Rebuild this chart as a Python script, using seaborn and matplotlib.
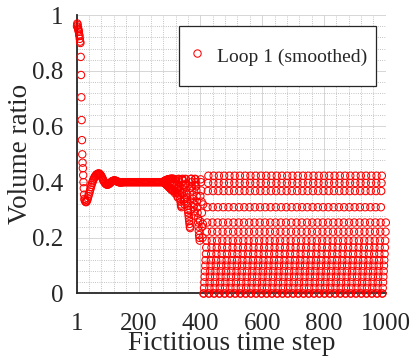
import numpy as np
import pandas as pd
import seaborn as sns
import matplotlib
matplotlib.use("Agg")
import matplotlib.pyplot as plt
from matplotlib.ticker import MultipleLocator, FuncFormatter

# ---------------- data ----------------
decay_steps = list(range(1, 26))
decay_vals = [0.96, 0.97, 0.965, 0.955, 0.95, 0.945, 0.94, 0.93, 0.925, 0.915,
              0.905, 0.90, 0.85, 0.785, 0.705, 0.623, 0.551, 0.50, 0.47, 0.45,
              0.425, 0.40, 0.378, 0.355, 0.34]

settle_steps = list(range(26, 151, 2))
settle_vals = [0.335, 0.33, 0.328, 0.33, 0.335, 0.342, 0.35, 0.358, 0.366, 0.374,
               0.382, 0.39, 0.397, 0.403, 0.409, 0.414, 0.418, 0.422, 0.425, 0.427,
               0.429, 0.43, 0.431, 0.431, 0.43, 0.428, 0.425, 0.421, 0.417, 0.412,
               0.407, 0.403, 0.399, 0.396, 0.394, 0.392, 0.391, 0.391, 0.392, 0.393,
               0.395, 0.397, 0.399, 0.401, 0.403, 0.404, 0.405, 0.406, 0.406, 0.406,
               0.405, 0.404, 0.403, 0.402, 0.401, 0.40, 0.40, 0.399, 0.399, 0.399,
               0.40, 0.40, 0.40]

plateau_steps = list(range(152, 282, 3))
plateau_vals = [0.40] * len(plateau_steps)

trans_steps = list(range(282, 410))
trans_vals = [
    # 282-313
    0.40, 0.404, 0.397, 0.405, 0.395, 0.406, 0.393, 0.407, 0.391, 0.408,
    0.389, 0.409, 0.387, 0.41, 0.385, 0.41, 0.383, 0.411, 0.38, 0.411,
    0.378, 0.412, 0.376, 0.412, 0.374, 0.412, 0.372, 0.412, 0.37, 0.412,
    0.368, 0.412,
    # 314-343
    0.40, 0.39, 0.38, 0.37, 0.36, 0.365, 0.395, 0.41, 0.405, 0.39,
    0.375, 0.36, 0.35, 0.345, 0.38, 0.41, 0.412, 0.40, 0.385, 0.37,
    0.355, 0.34, 0.33, 0.32, 0.315, 0.31, 0.36, 0.41, 0.412, 0.405,
    # 344-373
    0.39, 0.375, 0.36, 0.345, 0.33, 0.32, 0.34, 0.39, 0.412, 0.41,
    0.395, 0.38, 0.36, 0.345, 0.33, 0.315, 0.30, 0.29, 0.28, 0.27,
    0.26, 0.25, 0.24, 0.235, 0.30, 0.38, 0.412, 0.412, 0.40, 0.385,
    # 374-409
    0.37, 0.355, 0.34, 0.325, 0.31, 0.295, 0.28, 0.32, 0.39, 0.412,
    0.41, 0.40, 0.385, 0.37, 0.35, 0.33, 0.31, 0.29, 0.27, 0.255,
    0.24, 0.225, 0.21, 0.20, 0.19, 0.26, 0.35, 0.41, 0.40, 0.37,
    0.33, 0.29, 0.24, 0.20, 0.25, 0.32]

cycle_vals = [0.0, 0.0, 0.02, 0.04, 0.06, 0.08, 0.10, 0.12, 0.142, 0.165,
              0.19, 0.222, 0.255, 0.31, 0.368, 0.397, 0.423]
cycle_steps = list(range(410, 1001))

series_label = "Loop 1 (smoothed)"
x_ticks = [1, 200, 400, 600, 800, 1000]
y_ticks = [0, 0.2, 0.4, 0.6, 0.8, 1.0]

# ---------------- assemble ----------------
steps = decay_steps + settle_steps + plateau_steps + trans_steps + cycle_steps
vals = (decay_vals + settle_vals + plateau_vals + trans_vals
        + list(np.resize(np.array(cycle_vals), len(cycle_steps))))
df = pd.DataFrame({"step": steps, "ratio": vals})

sns.set_theme(style="white")
plt.rcParams["font.family"] = ["Liberation Serif", "DejaVu Serif"]

fig = plt.figure(figsize=(4.14, 3.61), dpi=100)
ax = fig.add_axes([0.186, 0.187, 0.746, 0.771])

MS = 28
sns.scatterplot(data=df, x="step", y="ratio", ax=ax, marker="o", s=MS,
                facecolors="none", edgecolor="#ff0000", linewidth=0.75,
                clip_on=False, zorder=3, legend=False)

ax.set_xlim(1, 1000)
ax.set_ylim(0, 1)
ax.set_xticks(x_ticks)
ax.set_yticks(y_ticks)
ax.yaxis.set_major_formatter(FuncFormatter(lambda v, p: f"{v:g}"))
ax.xaxis.set_minor_locator(MultipleLocator(40))
ax.yaxis.set_minor_locator(MultipleLocator(0.04))

ax.grid(True, which="major", color="#d0d0d0", linestyle="-", linewidth=0.6)
ax.grid(True, which="minor", color="#b0b0b0", linestyle=":", linewidth=0.6)
ax.set_axisbelow(True)

for side in ["top", "right"]:
    ax.spines[side].set_visible(False)
for side in ["left", "bottom"]:
    ax.spines[side].set_color("#262626")
    ax.spines[side].set_linewidth(1.3)

ax.tick_params(axis="both", which="major", direction="in", length=4,
               width=1.0, color="#262626", labelsize=18, labelcolor="#262626")
ax.tick_params(axis="both", which="minor", length=0)
ax.tick_params(axis="x", pad=14)
ax.tick_params(axis="y", pad=10)

ax.set_xlabel("Fictitious time step", fontsize=19.5, color="#262626",
              labelpad=-2.5)
ax.set_ylabel("Volume ratio", fontsize=19.5, color="#262626", labelpad=-1)

h = ax.scatter([], [], marker="o", s=MS, facecolors="none",
               edgecolors="#ff0000", linewidths=0.75)
leg = ax.legend([h], [series_label], loc="upper right",
                bbox_to_anchor=(0.968, 0.96), borderaxespad=0, fontsize=14,
                frameon=True, fancybox=False, framealpha=1, edgecolor="#262626",
                borderpad=0.45, handleheight=3.0, handlelength=1.0,
                handletextpad=0.5, scatterpoints=1, scatteryoffsets=[0.2])
leg.get_frame().set_linewidth(0.9)

fig.savefig("out.png", dpi=100)
